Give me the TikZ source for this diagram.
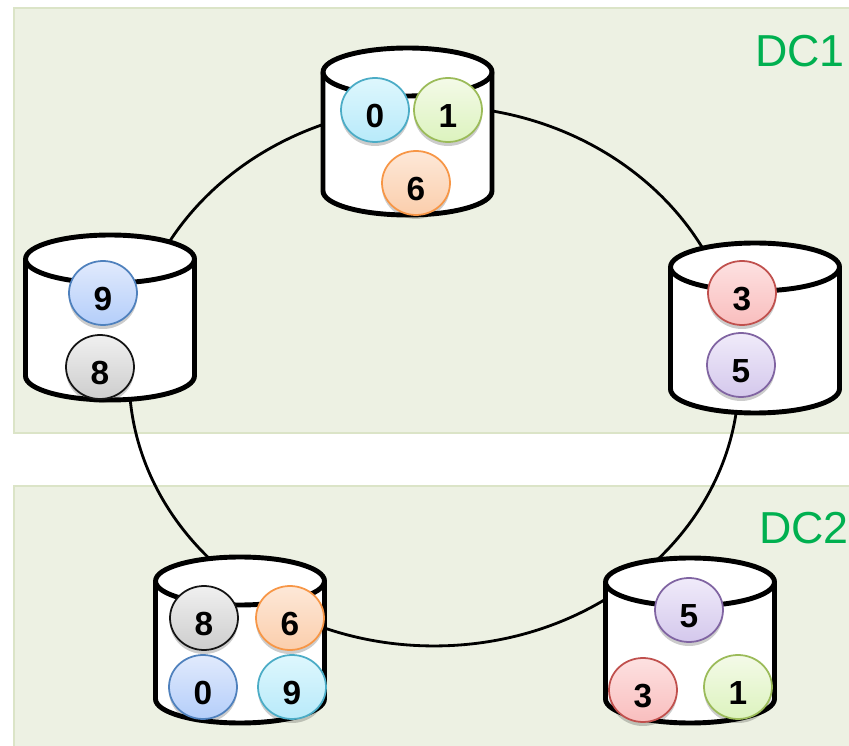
\documentclass[tikz,border=0pt]{standalone}
\usepackage{fontspec}
\setmainfont{Liberation Sans}
\usetikzlibrary{shapes.geometric,shadows}
\definecolor{dcfill}{RGB}{237,241,227}
\definecolor{dcline}{RGB}{219,228,199}
\definecolor{dctext}{RGB}{0,176,80}
\definecolor{cyanL}{RGB}{75,172,198}\definecolor{cyanT}{RGB}{222,247,253}\definecolor{cyanB}{RGB}{184,234,250}
\definecolor{bluL}{RGB}{79,129,189}\definecolor{bluT}{RGB}{225,234,252}\definecolor{bluB}{RGB}{180,206,250}
\definecolor{grnL}{RGB}{155,187,89}\definecolor{grnT}{RGB}{244,250,232}\definecolor{grnB}{RGB}{220,243,190}
\definecolor{orgL}{RGB}{247,150,70}\definecolor{orgT}{RGB}{253,232,216}\definecolor{orgB}{RGB}{251,206,172}
\definecolor{redL}{RGB}{192,80,77}\definecolor{redT}{RGB}{253,225,225}\definecolor{redB}{RGB}{249,190,190}
\definecolor{purL}{RGB}{128,100,162}\definecolor{purT}{RGB}{240,235,250}\definecolor{purB}{RGB}{212,200,236}
\definecolor{gryL}{RGB}{20,20,20}\definecolor{gryT}{RGB}{240,240,240}\definecolor{gryB}{RGB}{205,205,205}
\tikzset{tok/.style={ellipse, inner sep=0pt, outer sep=0pt, minimum width=1.36cm, minimum height=1.28cm,
  line width=1pt, text height=20.4pt, text depth=0pt, font=\fontsize{19}{19}\selectfont\bfseries,
  drop shadow={shadow xshift=0pt, shadow yshift=-0.08cm, opacity=0.2, fill=black}}}
\tikzset{tokC/.style={tok, draw=cyanL, top color=cyanT, bottom color=cyanB}}
\tikzset{tokB/.style={tok, draw=bluL, top color=bluT, bottom color=bluB}}
\tikzset{tokG/.style={tok, draw=grnL, top color=grnT, bottom color=grnB}}
\tikzset{tokO/.style={tok, draw=orgL, top color=orgT, bottom color=orgB}}
\tikzset{tokR/.style={tok, draw=redL, top color=redT, bottom color=redB}}
\tikzset{tokP/.style={tok, draw=purL, top color=purT, bottom color=purB}}
\tikzset{tokK/.style={tok, draw=gryL, top color=gryT, bottom color=gryB}}
\tikzset{dcbox/.style={fill=dcfill, draw=dcline, line width=1.2pt}}
\tikzset{dclab/.style={text=dctext, inner sep=0pt, font=\fontsize{25.5}{25.5}\selectfont}}
\tikzset{disk/.style={fill=white, draw=black, line width=2.8pt, line join=round}}

\begin{document}
\begin{tikzpicture}[x=0.02cm, y=-0.02cm]
\clip (0,0) rectangle (849,746);
\fill[white] (0,0) rectangle (849,746);
% data centres
\draw[dcbox] (14,8) rectangle (880,433);
\draw[dcbox] (14,486) rectangle (880,780);
\node[dclab, anchor=base east] (dc1) at (845,67) {DC1};
\node[dclab, anchor=base east] (dc2) at (849,543) {DC2};
% ring
\coordinate (ring) at (434,376);
\draw[line width=1.6pt] (ring) ellipse [x radius=6.1cm, y radius=5.4cm];
% disks
\foreach \i/\cx/\ty/\by in {1/407.5/72/191,2/110/259/376,3/755/267/389,4/240/581/699,5/690/582/699}{
\coordinate (disk\i) at (\cx,\ty);
\draw[disk] (\cx-84.5,\ty) -- (\cx-84.5,\by)
  arc[start angle=180, end angle=360, x radius=1.69cm, y radius=0.48cm]
  -- (\cx+84.5,\ty)
  arc[start angle=0, end angle=180, x radius=1.69cm, y radius=0.48cm] -- cycle;
\draw[disk, fill=none] (\cx-84.5,\ty)
  arc[start angle=180, end angle=360, x radius=1.69cm, y radius=0.48cm];
}
% tokens
\path
\foreach \n/\x/\y/\s/\t in {a0/375/110/C/0,a1/448/110/G/1,a6/416/183/O/6,
  b9/103/293/B/9,b8/100/367/K/8,
  c3/742/293/R/3,c5/741/365/P/5,
  d8/204/618/K/8,d6/290/618/O/6,d0/203/687/B/0,d9/292/687/C/9,
  e5/689/610/P/5,e3/643/690/R/3,e1/738/687/G/1}{
(\x,\y) node[tok\s](\n){\t}
};
\end{tikzpicture}
\end{document}
